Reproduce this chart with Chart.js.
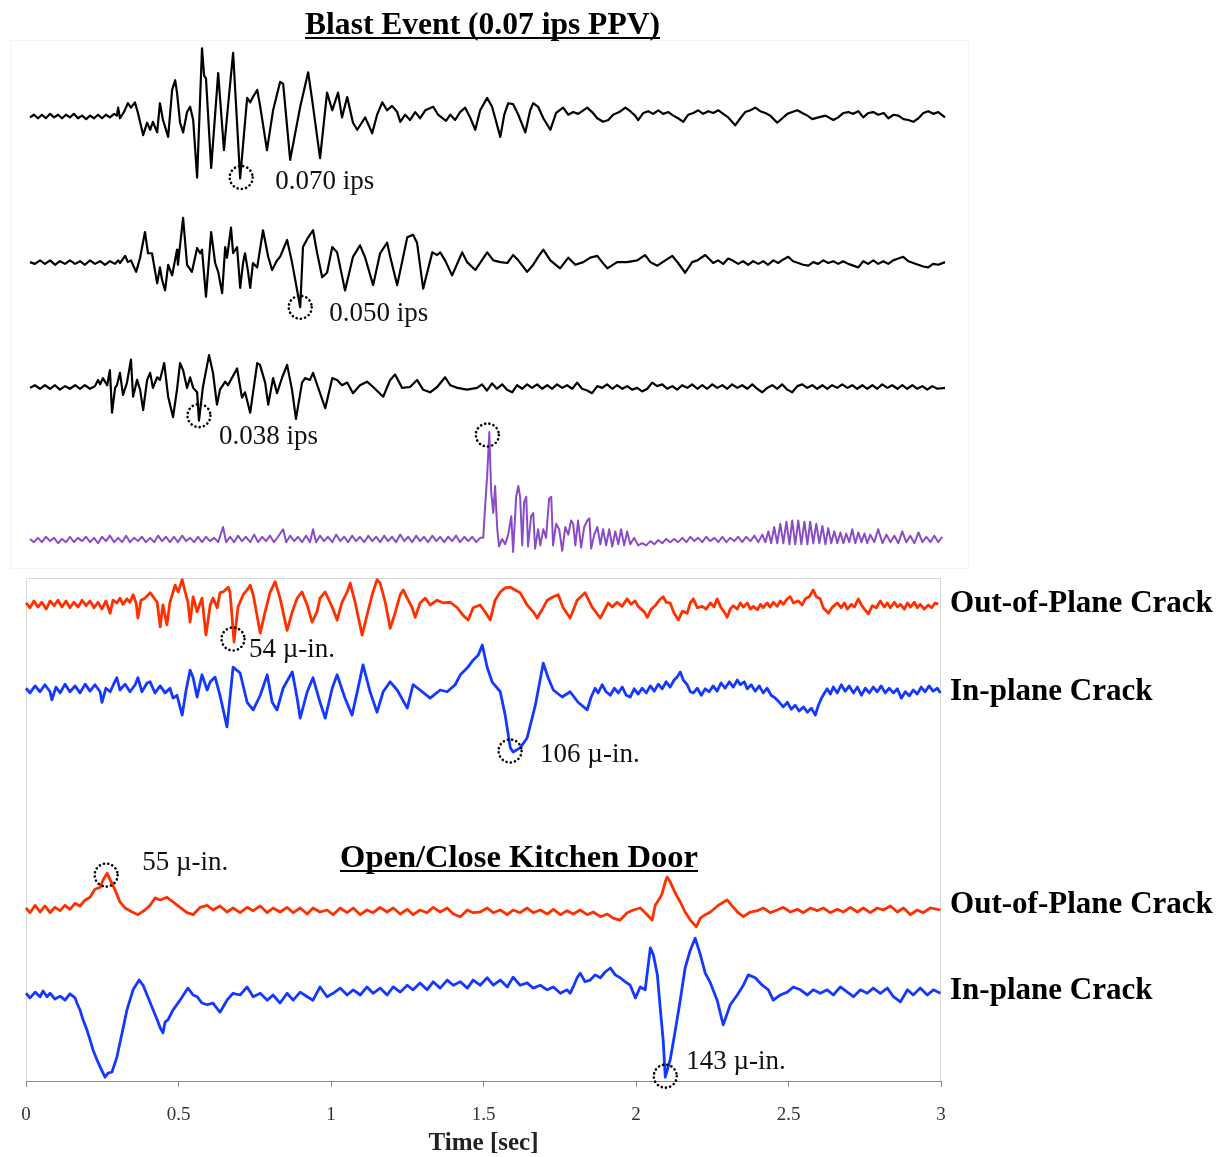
<!DOCTYPE html>
<html>
<head>
<meta charset="utf-8">
<script src="https://cdn.jsdelivr.net/npm/chart.js@4.4.1/dist/chart.umd.min.js"></script>
<style>
  html, body { margin: 0; background: #fff; }
  #wrap { width: 1219px; height: 1157px; position: relative; }
</style>
</head>
<body>
<div id="wrap"><canvas id="chart"></canvas></div>
<script>
// time in ms; geophone traces in 0.001 ips, air trace normalised to its peak, cracks in micro-inches
const vel1 = [[0,-1],[13,2],[26,-2],[39,2],[52,-2],[66,3],[79,-1],[92,2],[105,-2],[118,2],[131,-1],[144,3],[157,-2],[171,1],[184,-3],[197,1],[210,-2],[223,2],[236,-2],[249,2],[262,-1],[276,3],[285,1],[289,10],[295,-2],[308,5],[321,15],[331,10],[344,16],[354,4],[371,-21],[384,-7],[394,-15],[403,-6],[417,-18],[426,15],[436,-4],[453,-23],[466,30],[476,41],[482,27],[492,-7],[502,-18],[515,5],[525,11],[535,-4],[548,-69],[564,77],[571,46],[577,43],[594,-58],[617,49],[636,-38],[649,11],[666,72],[689,-70],[712,21],[722,16],[731,22],[745,30],[754,13],[777,-38],[797,7],[820,39],[830,37],[853,-49],[886,11],[912,50],[925,19],[951,-47],[974,27],[991,7],[1010,27],[1023,-1],[1040,22],[1059,-7],[1073,-15],[1099,-1],[1122,-19],[1138,2],[1155,16],[1171,7],[1187,12],[1204,5],[1214,-6],[1230,2],[1246,-4],[1263,5],[1279,-2],[1296,7],[1322,11],[1338,2],[1364,-5],[1378,2],[1394,-4],[1410,5],[1427,10],[1443,-1],[1460,-15],[1476,7],[1499,21],[1515,11],[1542,-23],[1555,2],[1568,15],[1584,14],[1601,2],[1624,-18],[1640,7],[1650,15],[1666,11],[1683,-2],[1706,-15],[1725,4],[1748,10],[1765,2],[1781,5],[1797,3],[1814,7],[1827,10],[1843,5],[1860,-2],[1879,-6],[1896,-4],[1912,2],[1932,5],[1952,10],[1968,6],[1984,1],[1994,-4],[2011,4],[2027,6],[2043,3],[2060,7],[2076,3],[2093,5],[2109,1],[2125,-2],[2142,-6],[2158,2],[2175,4],[2191,7],[2207,3],[2224,6],[2240,4],[2257,7],[2273,3],[2289,-1],[2312,-10],[2329,-2],[2345,5],[2362,7],[2378,10],[2394,6],[2411,4],[2427,1],[2450,-7],[2467,-2],[2483,3],[2499,5],[2516,7],[2532,4],[2549,1],[2565,-3],[2585,-1],[2608,1],[2634,-4],[2650,-1],[2667,4],[2683,5],[2699,3],[2716,6],[2732,-1],[2749,4],[2765,5],[2781,2],[2799,4],[2814,-2],[2832,2],[2847,1],[2864,-3],[2880,-4],[2896,-6],[2913,-2],[2929,4],[2945,6],[2962,3],[2978,5],[3000,-1]];

const vel2 = [[0,1],[16,-1],[33,3],[49,-1],[66,3],[82,-2],[98,2],[115,-1],[131,3],[148,-1],[164,2],[180,-2],[197,3],[213,-1],[230,2],[246,-2],[262,2],[279,-1],[289,3],[295,0],[312,8],[321,1],[331,3],[348,-10],[361,6],[377,35],[387,11],[400,11],[417,-23],[426,-5],[433,-19],[443,-31],[453,-2],[466,-14],[482,15],[485,-2],[502,51],[515,-2],[531,-10],[548,17],[558,11],[564,15],[577,-38],[594,35],[607,0],[617,-10],[630,-34],[640,18],[646,6],[659,40],[666,11],[679,18],[689,-28],[699,1],[705,11],[715,-10],[722,-28],[731,0],[745,-5],[764,37],[781,7],[794,-8],[810,3],[820,7],[843,26],[859,1],[886,-50],[895,18],[912,29],[928,37],[941,12],[958,-16],[974,-11],[991,18],[1007,12],[1033,-31],[1059,7],[1082,20],[1099,6],[1125,-25],[1148,11],[1171,23],[1181,7],[1204,-25],[1237,29],[1256,32],[1269,23],[1289,-29],[1319,12],[1335,9],[1345,12],[1361,3],[1384,-14],[1417,12],[1433,1],[1460,-8],[1499,12],[1519,3],[1542,1],[1565,0],[1584,9],[1601,3],[1630,-10],[1650,-2],[1666,7],[1683,15],[1706,3],[1738,-6],[1765,6],[1788,-2],[1814,1],[1837,6],[1860,8],[1876,1],[1893,-6],[1925,1],[1958,1],[1991,3],[2017,9],[2034,1],[2057,-3],[2083,3],[2106,8],[2125,0],[2148,-11],[2171,1],[2188,3],[2214,9],[2240,0],[2256,3],[2273,-1],[2289,5],[2303,3],[2322,-1],[2338,2],[2355,-2],[2371,2],[2388,-1],[2404,2],[2420,-2],[2437,3],[2453,0],[2470,4],[2486,7],[2502,2],[2519,0],[2535,-2],[2552,-3],[2568,1],[2584,-1],[2601,3],[2617,0],[2634,2],[2650,-1],[2666,2],[2683,-1],[2699,-3],[2716,-5],[2732,2],[2748,-1],[2765,3],[2781,-1],[2798,2],[2814,-1],[2830,3],[2847,5],[2863,7],[2880,2],[2896,0],[2912,-2],[2929,-4],[2945,-5],[2961,-1],[2978,-2],[3000,1]];

const vel3 = [[0,-1],[16,2],[33,-2],[49,2],[66,-2],[82,2],[98,-3],[115,1],[131,-2],[148,2],[164,-2],[180,2],[197,-2],[213,1],[223,8],[230,3],[239,10],[253,2],[262,19],[269,-29],[279,-1],[285,2],[295,16],[305,-9],[318,5],[331,31],[338,-11],[351,8],[361,-3],[371,-26],[384,8],[394,16],[403,-1],[417,11],[426,8],[440,27],[453,-11],[469,-34],[482,-3],[492,27],[502,19],[515,-1],[525,11],[535,-1],[548,-6],[554,-38],[567,0],[587,36],[600,16],[613,-20],[623,-3],[640,6],[649,2],[679,21],[695,-12],[705,-6],[722,-29],[745,27],[754,25],[771,5],[781,-20],[797,10],[810,-7],[827,11],[843,25],[859,-3],[872,-36],[892,5],[902,10],[918,8],[928,16],[945,-1],[968,-24],[991,10],[1007,8],[1023,2],[1040,5],[1059,-7],[1082,2],[1105,6],[1125,0],[1158,-11],[1181,8],[1197,14],[1220,-1],[1246,0],[1269,8],[1289,-3],[1312,-6],[1335,0],[1361,11],[1378,2],[1401,-1],[1433,-3],[1466,-1],[1482,3],[1498,-4],[1515,4],[1531,-2],[1548,3],[1564,-3],[1581,-6],[1597,2],[1614,-2],[1630,3],[1646,-1],[1663,3],[1679,-2],[1696,2],[1712,-2],[1728,3],[1745,-1],[1761,2],[1778,-2],[1794,5],[1810,-2],[1827,-4],[1843,-7],[1860,1],[1876,-1],[1892,3],[1909,-2],[1925,2],[1942,-2],[1958,1],[1974,-3],[1991,-1],[2007,-5],[2024,-2],[2040,5],[2056,1],[2073,3],[2089,-2],[2106,1],[2122,-3],[2138,2],[2155,-1],[2171,3],[2188,-2],[2204,2],[2220,-2],[2237,3],[2253,-1],[2270,2],[2286,-2],[2302,3],[2319,-1],[2335,2],[2352,-2],[2368,3],[2384,-2],[2401,-6],[2417,-1],[2434,2],[2450,-2],[2466,3],[2483,-3],[2499,-6],[2516,1],[2532,3],[2548,-1],[2565,2],[2581,-2],[2598,2],[2614,-2],[2630,2],[2647,-1],[2663,3],[2680,-1],[2696,2],[2712,-2],[2729,2],[2745,-2],[2762,2],[2778,-2],[2794,3],[2811,-1],[2827,2],[2844,-2],[2860,2],[2876,-2],[2893,2],[2909,-2],[2926,1],[2942,-3],[2958,1],[2975,-2],[3000,-1]];

const airPulse = [[0,0.01],[13,-0.02],[26,0.02],[39,-0.02],[52,0.03],[66,-0.01],[79,0.02],[92,-0.03],[105,0.01],[118,-0.02],[131,0.03],[144,-0.02],[157,0.02],[171,-0.01],[184,0.03],[197,-0.02],[210,0.02],[223,-0.03],[236,0.03],[249,-0.01],[262,0.04],[276,-0.02],[289,0.02],[302,-0.02],[315,0.04],[328,-0.02],[341,0.02],[354,-0.01],[367,0.03],[380,-0.02],[394,0.02],[407,-0.02],[420,0.04],[433,-0.01],[446,0.03],[459,-0.02],[472,0.03],[485,-0.02],[499,0.04],[512,-0.01],[525,0.02],[538,-0.02],[551,0.03],[564,-0.02],[577,0.03],[590,-0.01],[604,0.02],[617,-0.02],[633,0.12],[643,-0.02],[656,0.03],[669,-0.02],[682,0.04],[695,-0.01],[708,0.03],[722,-0.02],[735,0.05],[748,-0.02],[761,0.03],[774,-0.01],[787,0.04],[800,-0.02],[813,0.03],[830,0.10],[840,-0.02],[853,0.04],[866,-0.01],[879,0.03],[892,-0.02],[905,0.04],[918,-0.02],[928,0.10],[938,-0.02],[951,0.04],[964,-0.01],[977,0.03],[991,-0.02],[1004,0.05],[1017,-0.01],[1030,0.03],[1043,-0.02],[1056,0.04],[1069,-0.01],[1082,0.03],[1096,-0.02],[1109,0.04],[1122,-0.01],[1135,0.03],[1148,-0.02],[1161,0.04],[1174,-0.01],[1187,0.03],[1200,-0.02],[1214,0.05],[1227,-0.01],[1240,0.03],[1253,-0.02],[1266,0.04],[1279,-0.01],[1292,0.03],[1305,-0.02],[1319,0.04],[1332,-0.01],[1345,0.03],[1358,-0.02],[1371,0.03],[1384,-0.01],[1397,0.04],[1410,-0.02],[1424,0.03],[1437,-0.01],[1450,0.03],[1463,-0.02],[1476,0.02],[1486,0.02],[1492,0.30],[1499,0.60],[1506,1.00],[1512,0.45],[1519,0.25],[1525,0.50],[1532,0.10],[1538,-0.06],[1548,0.01],[1558,-0.04],[1568,0.05],[1578,0.22],[1584,-0.11],[1594,0.40],[1601,0.50],[1607,0.40],[1614,-0.05],[1620,0.35],[1627,0.40],[1633,-0.06],[1643,0.22],[1650,0.25],[1656,-0.08],[1666,0.10],[1673,-0.05],[1683,0.10],[1692,0.02],[1702,0.38],[1709,0.40],[1715,-0.05],[1725,0.15],[1735,0.10],[1745,-0.10],[1755,0.12],[1765,0.05],[1774,0.18],[1781,0.15],[1788,-0.05],[1797,0.18],[1807,-0.07],[1817,0.12],[1827,0.18],[1834,0.20],[1840,-0.08],[1850,0.05],[1860,0.12],[1870,-0.04],[1879,0.10],[1889,-0.05],[1899,0.10],[1909,-0.06],[1919,0.08],[1929,-0.04],[1938,0.10],[1948,-0.05],[1958,0.08],[1968,-0.04],[1981,0.02],[1994,-0.05],[2007,-0.03],[2020,-0.05],[2034,-0.01],[2047,-0.04],[2060,0.00],[2073,-0.03],[2086,0.01],[2099,-0.02],[2112,0.01],[2125,-0.02],[2139,0.02],[2152,-0.02],[2165,0.03],[2178,-0.01],[2191,0.02],[2204,-0.02],[2217,0.03],[2230,-0.01],[2244,0.02],[2257,-0.02],[2270,0.03],[2283,-0.02],[2296,0.02],[2309,-0.01],[2322,0.03],[2335,-0.02],[2348,0.03],[2362,-0.01],[2375,0.04],[2388,-0.02],[2401,0.05],[2411,-0.02],[2421,0.08],[2430,-0.03],[2440,0.12],[2450,-0.03],[2460,0.15],[2470,-0.03],[2480,0.17],[2490,-0.04],[2499,0.18],[2509,-0.04],[2519,0.18],[2529,-0.04],[2539,0.17],[2549,-0.04],[2558,0.17],[2568,-0.03],[2578,0.15],[2588,-0.03],[2598,0.13],[2608,-0.04],[2617,0.11],[2627,-0.03],[2637,0.08],[2647,-0.03],[2657,0.07],[2667,-0.03],[2676,0.06],[2686,-0.02],[2696,0.10],[2706,-0.03],[2716,0.07],[2726,-0.02],[2736,0.06],[2745,-0.03],[2755,0.05],[2768,-0.02],[2781,0.10],[2795,-0.03],[2808,0.05],[2821,-0.02],[2834,0.04],[2847,-0.03],[2860,0.08],[2873,-0.02],[2886,0.04],[2900,-0.03],[2913,0.07],[2926,-0.02],[2939,0.03],[2952,-0.02],[2965,0.04],[2978,-0.02],[2991,0.03],[3000,0.00]];

const blastOut = [[0,3],[13,-4],[26,6],[39,-3],[52,4],[66,-6],[79,6],[92,-1],[105,7],[118,-3],[131,6],[144,-4],[157,4],[171,-3],[184,7],[197,-1],[210,6],[223,-4],[236,4],[249,-6],[262,6],[276,-12],[285,7],[298,3],[308,10],[318,1],[331,9],[341,4],[351,15],[361,3],[367,-19],[377,7],[390,10],[407,18],[417,12],[430,4],[440,-32],[449,0],[462,-29],[472,4],[489,29],[499,19],[512,37],[522,19],[531,4],[538,-25],[548,12],[561,-10],[577,10],[590,-44],[604,0],[613,10],[627,-4],[636,18],[646,19],[663,26],[669,19],[682,-54],[695,-3],[712,15],[725,22],[735,29],[745,15],[768,-41],[784,-10],[800,18],[817,34],[833,10],[856,-37],[873,-10],[889,10],[905,19],[922,0],[938,-25],[954,-10],[964,10],[981,19],[1004,-3],[1020,-22],[1036,4],[1053,19],[1063,32],[1079,4],[1102,-44],[1118,-15],[1135,15],[1151,37],[1161,32],[1178,4],[1194,-34],[1210,-12],[1227,15],[1237,22],[1250,10],[1266,-4],[1276,-18],[1292,3],[1309,10],[1325,0],[1348,7],[1368,3],[1391,4],[1414,-4],[1433,-15],[1450,-22],[1466,-4],[1489,0],[1505,-10],[1522,-22],[1538,7],[1555,19],[1571,25],[1588,26],[1604,22],[1620,18],[1643,0],[1663,-10],[1676,-19],[1692,-7],[1709,7],[1729,12],[1745,15],[1761,-4],[1784,-19],[1807,7],[1833,18],[1856,-3],[1883,-19],[1909,3],[1922,-3],[1938,4],[1954,-2],[1971,9],[1984,1],[1997,6],[2007,-2],[2017,-6],[2027,-10],[2037,-18],[2050,-6],[2063,-1],[2076,7],[2089,12],[2099,4],[2112,3],[2125,-12],[2139,-22],[2152,-9],[2168,-12],[2178,3],[2188,9],[2201,-4],[2217,-2],[2230,-6],[2244,3],[2256,-3],[2266,9],[2279,-4],[2289,-10],[2299,-18],[2309,-6],[2319,-1],[2332,-6],[2342,3],[2352,-3],[2365,3],[2375,-6],[2385,-2],[2398,-7],[2408,1],[2417,-4],[2430,3],[2440,-3],[2450,4],[2463,-2],[2473,6],[2483,1],[2496,9],[2506,12],[2516,3],[2532,6],[2545,0],[2555,9],[2568,12],[2581,22],[2591,12],[2604,9],[2614,-4],[2631,-12],[2644,-3],[2660,3],[2673,-4],[2683,3],[2693,-6],[2706,1],[2716,-3],[2729,9],[2739,0],[2749,-6],[2762,-13],[2775,-1],[2788,-4],[2801,6],[2814,-3],[2824,3],[2834,-4],[2847,4],[2857,-3],[2867,1],[2880,-6],[2890,3],[2900,-3],[2913,4],[2922,-4],[2932,1],[2945,-6],[2959,0],[2969,-4],[2981,3],[2991,1]];

const blastIn = [[0,3],[13,-5],[30,7],[46,-3],[62,9],[79,-3],[85,-17],[98,5],[112,-5],[128,10],[144,-3],[161,7],[177,-5],[194,10],[210,-2],[226,9],[243,-3],[249,-21],[262,3],[276,-3],[289,12],[298,21],[308,0],[325,10],[341,-3],[358,9],[367,21],[380,-3],[397,12],[407,14],[423,-5],[440,7],[456,-5],[472,3],[482,-14],[495,-9],[512,-43],[525,0],[538,34],[548,21],[561,-12],[577,26],[594,0],[604,14],[620,22],[636,-9],[659,-63],[679,39],[702,29],[725,-21],[745,-34],[768,-9],[791,26],[807,-21],[823,-34],[843,3],[873,31],[889,-14],[899,-48],[922,-3],[941,21],[964,-21],[981,-48],[1004,3],[1020,26],[1046,-14],[1069,-43],[1086,-3],[1105,43],[1128,-3],[1151,-38],[1171,-3],[1194,14],[1217,0],[1250,-31],[1269,9],[1292,0],[1325,-14],[1358,0],[1381,-3],[1407,9],[1424,26],[1447,38],[1466,51],[1483,60],[1496,77],[1512,39],[1528,14],[1555,-3],[1571,-43],[1588,-99],[1597,-106],[1620,-99],[1643,-82],[1670,-26],[1696,46],[1712,21],[1729,0],[1758,-12],[1784,-3],[1810,-21],[1840,-34],[1853,-12],[1866,3],[1876,-5],[1889,9],[1902,-3],[1916,-9],[1929,3],[1942,-5],[1955,5],[1968,-9],[1981,-12],[1994,2],[2007,-7],[2020,3],[2034,-5],[2047,7],[2060,-2],[2073,10],[2086,2],[2099,14],[2112,5],[2125,17],[2135,22],[2145,31],[2155,17],[2168,9],[2178,-3],[2188,-5],[2201,3],[2214,-9],[2227,2],[2240,-3],[2253,7],[2266,-2],[2279,12],[2292,3],[2306,14],[2319,5],[2332,17],[2342,9],[2355,14],[2365,2],[2378,9],[2391,-2],[2404,7],[2417,-5],[2430,3],[2443,-9],[2457,-14],[2470,-21],[2483,-29],[2496,-21],[2509,-33],[2522,-26],[2535,-36],[2549,-29],[2562,-38],[2575,-31],[2588,-43],[2598,-26],[2608,-14],[2618,-5],[2627,2],[2637,-7],[2647,5],[2660,-5],[2673,9],[2686,-2],[2699,7],[2713,-5],[2726,5],[2739,-9],[2752,3],[2765,-5],[2778,5],[2791,-3],[2804,7],[2817,-5],[2830,3],[2844,-5],[2857,2],[2870,-14],[2883,-3],[2896,-10],[2909,0],[2922,-7],[2935,5],[2948,-3],[2961,7],[2974,-2],[2988,3],[2998,-5]];

const doorOut = [[0,3],[13,-4],[30,7],[46,-3],[62,6],[79,-4],[95,4],[112,-1],[128,7],[144,1],[161,10],[177,6],[194,15],[210,19],[226,31],[243,34],[253,45],[266,55],[276,45],[292,30],[308,12],[325,3],[348,-3],[367,-7],[390,0],[407,7],[423,18],[440,15],[462,19],[482,12],[505,4],[528,-4],[548,-7],[571,4],[594,7],[613,0],[636,6],[659,-3],[679,3],[702,-4],[725,4],[745,-1],[768,6],[791,-4],[810,3],[833,-3],[856,4],[876,-4],[899,3],[922,-6],[941,3],[964,-3],[987,0],[1007,-7],[1030,3],[1053,-4],[1073,3],[1096,-7],[1118,0],[1138,-4],[1161,4],[1184,-3],[1204,3],[1227,-6],[1250,1],[1269,-7],[1292,0],[1315,-4],[1335,4],[1358,-3],[1381,3],[1401,-6],[1424,-10],[1447,0],[1466,-4],[1489,-3],[1512,3],[1532,-4],[1555,0],[1578,-7],[1597,0],[1620,-4],[1643,3],[1663,-4],[1686,0],[1709,-6],[1729,1],[1752,-7],[1774,-1],[1794,-6],[1817,0],[1840,-7],[1860,-3],[1883,-10],[1906,-6],[1925,-12],[1948,-15],[1971,-4],[1991,0],[2014,3],[2030,-4],[2053,-15],[2063,7],[2080,19],[2086,25],[2096,42],[2102,49],[2112,42],[2129,25],[2145,12],[2161,-3],[2178,-15],[2198,-25],[2211,-12],[2227,-7],[2244,-3],[2270,7],[2299,15],[2319,4],[2335,-4],[2352,-10],[2375,-3],[2398,-1],[2417,3],[2440,-4],[2463,0],[2483,4],[2506,-3],[2529,1],[2549,-4],[2572,3],[2594,-1],[2614,3],[2637,-4],[2660,1],[2680,-3],[2703,4],[2726,-3],[2745,3],[2768,-4],[2791,3],[2811,0],[2834,6],[2857,-3],[2877,3],[2900,-7],[2922,0],[2942,-4],[2965,3],[2998,0]];

const doorIn = [[0,3],[13,-5],[30,5],[46,-3],[56,7],[69,-3],[79,3],[95,-7],[112,-2],[128,-9],[144,2],[161,-5],[167,-14],[177,-26],[187,-43],[200,-61],[210,-78],[220,-96],[233,-113],[243,-125],[259,-143],[269,-136],[282,-134],[298,-108],[315,-66],[331,-26],[351,9],[371,26],[384,17],[390,9],[413,-21],[430,-43],[440,-57],[449,-66],[456,-47],[466,-43],[482,-26],[505,-9],[531,12],[548,0],[561,-3],[577,-14],[594,-17],[613,-14],[636,-30],[659,-9],[679,3],[702,0],[725,14],[745,-3],[768,3],[791,-9],[810,0],[833,-14],[856,3],[876,-9],[899,5],[922,-3],[941,-9],[964,14],[987,-3],[1007,3],[1030,12],[1053,0],[1073,9],[1096,0],[1118,14],[1138,3],[1161,12],[1184,0],[1204,14],[1227,5],[1250,17],[1269,9],[1292,21],[1315,9],[1335,23],[1358,12],[1381,26],[1401,17],[1424,23],[1447,12],[1466,26],[1489,17],[1512,30],[1532,17],[1555,26],[1578,14],[1597,31],[1620,17],[1643,21],[1663,12],[1686,17],[1709,9],[1729,14],[1752,3],[1774,9],[1784,3],[1794,14],[1807,30],[1817,38],[1833,23],[1850,26],[1866,35],[1883,30],[1899,40],[1916,47],[1932,35],[1948,30],[1965,23],[1981,17],[1998,-5],[2014,14],[2030,9],[2047,82],[2057,70],[2070,35],[2080,-26],[2089,-78],[2096,-143],[2112,-113],[2129,-61],[2145,-9],[2161,47],[2178,78],[2194,99],[2211,70],[2227,38],[2244,21],[2266,-9],[2286,-52],[2309,-17],[2332,0],[2352,17],[2368,35],[2391,30],[2414,17],[2434,9],[2450,-9],[2473,0],[2496,5],[2516,14],[2539,9],[2562,0],[2581,9],[2604,3],[2627,9],[2647,0],[2670,14],[2693,5],[2713,-3],[2736,9],[2758,3],[2778,12],[2801,3],[2824,12],[2844,-3],[2867,-12],[2890,9],[2909,0],[2932,12],[2955,0],[2975,9],[2998,3]];

const timeTicks = [0, 500, 1000, 1500, 2000, 2500, 3000];

// layout of the stacked traces (page pixels of each zero line, units per pixel)
const PLOT_TOP = 40, PLOT_BOTTOM = 1081;
const traces = [
  { data: vel1, color: '#000000', width: 2.2, top: true, base: 116.5, perPx: 1.13 },
  { data: vel2, color: '#000000', width: 2.2, top: true, base: 263, perPx: 1.13 },
  { data: vel3, color: '#000000', width: 2.2, top: true, base: 387, perPx: 1.13 },
  { data: airPulse, color: '#8a4cc6', width: 2, top: true, base: 540, perPx: 1 / 108 },
  { data: blastOut, color: '#ff3000', width: 2.8, base: 605, perPx: 1.46, label: 'Out-of-Plane Crack', labelDy: -1 },
  { data: blastIn, color: '#1438ff', width: 2.8, base: 690, perPx: 1.71, label: 'In-plane Crack', labelDy: 2 },
  { data: doorOut, color: '#ff3000', width: 2.8, base: 910, perPx: 1.49, label: 'Out-of-Plane Crack', labelDy: -5 },
  { data: doorIn, color: '#1438ff', width: 2.8, base: 995, perPx: 1.74, label: 'In-plane Crack', labelDy: -4 }
];

const marks = [
  { trace: 0, t: 689, v: -70, text: '0.070 ips', dx: 35, dy: 3, cx: 1, cy: -1 },
  { trace: 1, t: 886, v: -50, text: '0.050 ips', dx: 29, dy: 7, cx: 0, cy: 0 },
  { trace: 2, t: 554, v: -38, text: '0.038 ips', dx: 20, dy: 16, cx: 0, cy: -5 },
  { trace: 3, t: 1506, v: 1.0, text: '', dx: 0, dy: 0, cx: -2, cy: 3 },
  { trace: 4, t: 682, v: -54, text: '54 \u00b5-in.', dx: 15, dy: 8, cx: -1, cy: -3 },
  { trace: 5, t: 1597, v: -106, text: '106 \u00b5-in.', dx: 27, dy: 3, cx: -3, cy: -1 },
  { trace: 6, t: 266, v: 55, text: '55 \u00b5-in.', dx: 35, dy: -10, cx: -1, cy: 2 },
  { trace: 7, t: 2096, v: -143, text: '143 \u00b5-in.', dx: 21, dy: -15, cx: 0, cy: -1 }
];

const SERIF = '"Liberation Serif", "Times New Roman", serif';
Chart.defaults.font.family = SERIF;

function fitSize(ctx, text, weight, width) {
  ctx.font = weight + ' 100px ' + SERIF;
  return 100 * width / ctx.measureText(text).width;
}

function heading(ctx, text, cx, cy, width) {
  const size = fitSize(ctx, text, 'bold', width);
  ctx.font = 'bold ' + size + 'px ' + SERIF;
  ctx.fillStyle = '#000';
  ctx.textAlign = 'center';
  ctx.textBaseline = 'middle';
  ctx.fillText(text, cx, cy + 3);
  ctx.fillRect(cx - width / 2, cy + 14, width, 2);
}

const decorations = {
  id: 'decorations',
  beforeDatasetsDraw(chart) {
    const { ctx, chartArea } = chart;
    ctx.save();
    // faint frame of the pasted blast panel
    ctx.strokeStyle = '#f4f4f4';
    ctx.lineWidth = 1;
    ctx.strokeRect(10.5, 40.5, 958, 528);
    // frame of the crack panel
    ctx.strokeStyle = '#d9d9d9';
    ctx.beginPath();
    ctx.moveTo(chartArea.left + 0.5, chartArea.bottom);
    ctx.lineTo(chartArea.left + 0.5, 578.5);
    ctx.lineTo(chartArea.right - 0.5, 578.5);
    ctx.lineTo(chartArea.right - 0.5, chartArea.bottom);
    ctx.stroke();
    ctx.restore();
  },
  afterDatasetsDraw(chart) {
    const { ctx, chartArea } = chart;
    ctx.save();
    marks.forEach(m => {
      const meta = chart.getDatasetMeta(m.trace);
      const px = chart.scales[meta.xAxisID].getPixelForValue(m.t);
      const py = chart.scales[meta.yAxisID].getPixelForValue(m.v);
      ctx.strokeStyle = '#000';
      ctx.lineWidth = 2.6;
      ctx.lineCap = 'round';
      ctx.setLineDash([0.1, 4.2]);
      ctx.beginPath();
      ctx.arc(px + m.cx, py + m.cy, 11.5, 0, Math.PI * 2);
      ctx.stroke();
      ctx.setLineDash([]);
      if (m.text) {
        ctx.font = '27px ' + SERIF;
        ctx.fillStyle = '#111';
        ctx.textAlign = 'left';
        ctx.textBaseline = 'middle';
        ctx.fillText(m.text, px + m.dx, py + m.dy);
      }
    });
    // trace names at the right of the crack panel
    traces.forEach((tr, i) => {
      if (!tr.label) return;
      const y = chart.scales['y' + i].getPixelForValue(0) + tr.labelDy;
      const size = fitSize(ctx, 'Out-of-Plane Crack', 'bold', 263);
      ctx.font = 'bold ' + size + 'px ' + SERIF;
      ctx.fillStyle = '#000';
      ctx.textAlign = 'left';
      ctx.textBaseline = 'middle';
      ctx.fillText(tr.label, chartArea.right + 9, y);
    });
    heading(ctx, 'Blast Event (0.07 ips PPV)', 482.5, 23, 355);
    heading(ctx, 'Open/Close Kitchen Door', 519, 856, 358);
    ctx.restore();
  }
};

const scales = {
  x: {
    type: 'linear',
    position: 'bottom',
    min: 0,
    max: 3000,
    afterBuildTicks: scale => { scale.ticks = timeTicks.map(v => ({ value: v })); },
    afterFit: scale => { scale.height = 76; },
    ticks: {
      autoSkip: false,
      maxRotation: 0,
      padding: 17,
      color: '#333',
      font: { size: 19 },
      callback: v => String(v / 1000)
    },
    grid: { drawOnChartArea: false, drawTicks: true, tickLength: 6, color: '#8c8c8c' },
    border: { display: true, color: '#8c8c8c', width: 1 },
    title: { display: true, text: 'Time [sec]', color: '#222', font: { size: 25, weight: 'bold' }, padding: { top: 0, bottom: -2 } }
  },
  xTop: { type: 'linear', display: false, min: -13.1, max: 2986.9 }
};
traces.forEach((tr, i) => {
  scales['y' + i] = {
    type: 'linear',
    display: false,
    min: -(PLOT_BOTTOM - tr.base) * tr.perPx,
    max: (tr.base - PLOT_TOP) * tr.perPx
  };
});

new Chart(document.getElementById('chart'), {
  type: 'line',
  data: {
    datasets: traces.map((tr, i) => ({
      data: tr.data.map(p => ({ x: p[0], y: p[1] })),
      borderColor: tr.color,
      borderWidth: tr.width,
      borderJoinStyle: 'round',
      pointRadius: 0,
      tension: 0,
      fill: false,
      clip: false,
      xAxisID: tr.top ? 'xTop' : 'x',
      yAxisID: 'y' + i
    }))
  },
  options: {
    responsive: true,
    maintainAspectRatio: false,
    animation: false,
    events: [],
    layout: { padding: { top: PLOT_TOP, left: 26, right: 278, bottom: 0 } },
    plugins: { legend: { display: false }, tooltip: { enabled: false } },
    scales: scales
  },
  plugins: [decorations]
});
</script>
</body>
</html>
